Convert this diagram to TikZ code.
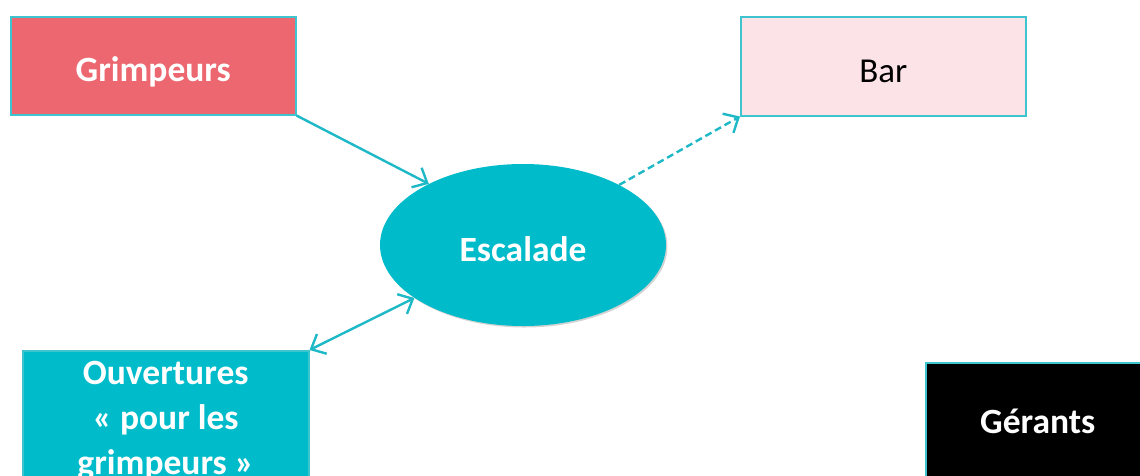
\documentclass[tikz,border=0pt]{standalone}
\usepackage{fontspec}
\setmainfont{Carlito}
\usetikzlibrary{arrows.meta,shapes.geometric,shadows}
\definecolor{teal}{HTML}{00BCCB}
\definecolor{arrowc}{HTML}{1FB8C7}
\definecolor{edgec}{HTML}{3EC4CF}
\definecolor{redbox}{HTML}{EC6770}
\definecolor{pinkbox}{HTML}{FCE3E7}
\tikzset{
  box/.style={draw=edgec, line width=1.5pt, rectangle, inner sep=0pt, align=center,
    drop shadow={shadow xshift=1.5pt, shadow yshift=-1.5pt, opacity=0.35, fill=gray}},
  wtext/.style={text=white, font=\fontsize{35.5}{45}\selectfont\bfseries},
  btext/.style={text=black, font=\fontsize{35}{45}\selectfont},
  lowtext/.style={text height=34pt, text depth=2pt},
  conn/.style={draw=arrowc, line width=2.4pt},
  barb/.tip={Straight Barb[length=12pt,width=22pt,line width=2.4pt]},
}
\begin{document}
\begin{tikzpicture}[x=1pt,y=-1pt]
\useasboundingbox (0,0) rectangle (1140,475);
\clip (0,0) rectangle (1140,475);
\node[box, fill=redbox, wtext, lowtext, anchor=north west, minimum width=285pt, minimum height=98pt] (grim) at (10,16) {Grimpeurs};
\node[box, fill=pinkbox, btext, lowtext, anchor=north west, minimum width=285pt, minimum height=99pt] (bar) at (740,16) {Bar};
\node[ellipse, fill=teal, wtext, lowtext, minimum width=286pt, minimum height=162pt, inner sep=0pt,
  drop shadow={shadow xshift=1.5pt, shadow yshift=-1.5pt, opacity=0.35, fill=gray}] (esc) at (523,245) {Escalade};
\node[box, fill=teal, wtext, anchor=north west, minimum width=286pt, minimum height=140pt] (ouv) at (22,350) {Ouvertures\\« pour les\\grimpeurs »};
\node[box, fill=black, wtext, text height=26pt, text depth=2pt, anchor=north west, minimum width=224pt, minimum height=118pt] (ger) at (925,362) {Gérants};
\draw[conn, -barb] (grim.south east) -- (esc.147);
\draw[conn, -barb, dash pattern=on 7pt off 4pt] (esc.32) -- (bar.south west);
\draw[conn, barb-barb] (ouv.north east) -- (esc.206);
\end{tikzpicture}
\end{document}
